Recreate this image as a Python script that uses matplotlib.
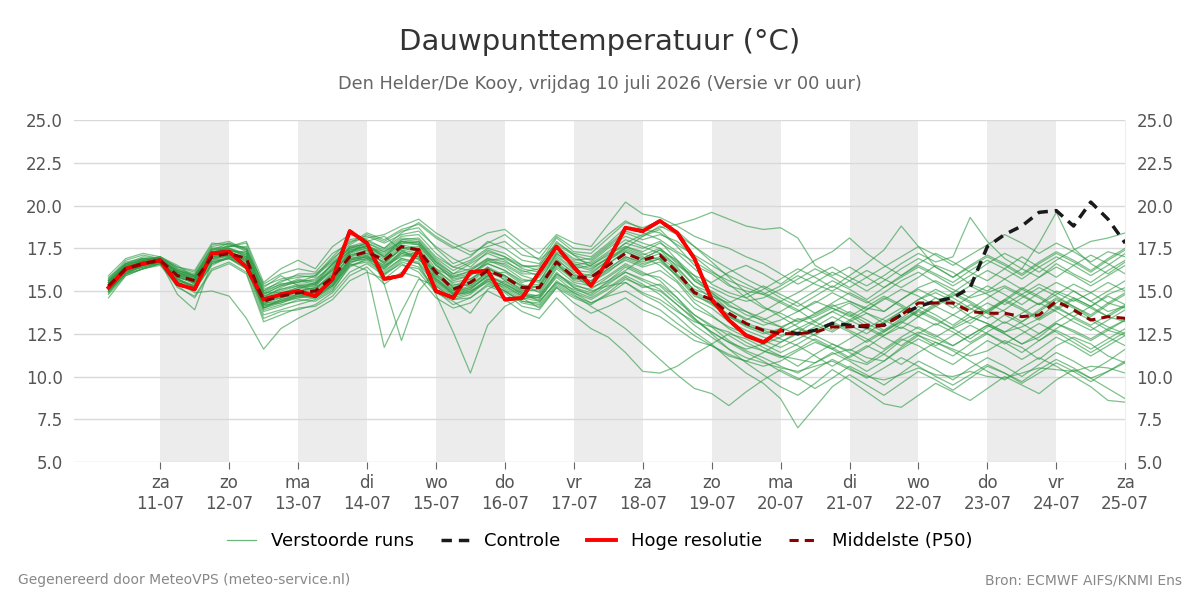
import numpy as np
import pandas as pd
import matplotlib
matplotlib.use('Agg')
import matplotlib.pyplot as plt
from matplotlib.lines import Line2D

# time axis: 6-hourly from 10-07 06:00 to 25-07 00:00
times = pd.date_range('2026-07-10 06:00', '2026-07-25 00:00', freq='6h')

# high resolution run (ends 20-07 00:00)
hres = [15.2, 16.3, 16.6, 16.8, 15.4, 15.1, 17.2, 17.3, 16.4, 14.5,
        14.8, 15.0, 14.7, 15.7, 18.5, 17.8, 15.7, 15.9, 17.4, 15.0,
        14.6, 16.1, 16.2, 14.5, 14.6, 16.1, 17.6, 16.4, 15.3, 16.8,
        18.7, 18.5, 19.1, 18.4, 16.9, 14.5, 13.3, 12.4, 12.0, 12.7]

# control run
control = hres + [12.5, 12.7, 13.1, 13.0, 12.9, 13.0, 13.6, 14.1, 14.4, 14.6,
                  15.2, 17.6, 18.3, 18.8, 19.6, 19.7, 18.8, 20.2, 19.2, 17.8]

# median of the ensemble
p50 = [15.3, 16.3, 16.6, 16.8, 15.9, 15.6, 17.0, 17.2, 16.9, 14.4,
       14.7, 14.9, 15.0, 15.8, 17.0, 17.3, 16.8, 17.6, 17.4, 16.1,
       15.1, 15.5, 16.2, 15.8, 15.2, 15.2, 16.7, 15.8, 15.8, 16.5,
       17.2, 16.8, 17.1, 16.1, 14.9, 14.5, 13.7, 13.1, 12.7, 12.5,
       12.5, 12.6, 12.9, 12.9, 13.0, 13.0, 13.6, 14.3, 14.3, 14.3,
       13.8, 13.7, 13.7, 13.5, 13.6, 14.4, 13.9, 13.3, 13.5, 13.4]

# perturbed members (read/estimated from the picture)
members = [
    [15.5, 16.4, 16.7, 16.9, 16.0, 15.4, 17.3, 17.5, 17.0, 14.2, 14.9, 15.2, 15.3, 16.3, 17.4, 17.6, 17.2, 17.9, 17.8, 16.6,
     15.6, 15.9, 16.8, 16.4, 15.7, 15.5, 17.2, 16.5, 16.2, 17.0, 17.8, 17.5, 17.9, 16.8, 15.6, 15.0, 14.4, 13.8, 13.2, 12.9,
     13.3, 13.6, 14.1, 14.4, 14.0, 13.8, 14.5, 15.2, 15.6, 15.1, 14.6, 14.9, 15.3, 14.8, 14.2, 15.0, 14.6, 14.1, 14.8, 15.2],
    [15.0, 16.1, 16.4, 16.7, 14.8, 13.9, 16.7, 16.9, 16.3, 13.6, 13.9, 14.2, 14.5, 15.1, 16.4, 16.9, 16.0, 16.8, 16.6, 15.3,
     14.5, 14.6, 15.4, 15.0, 14.4, 14.3, 15.6, 14.9, 14.5, 15.1, 15.8, 15.2, 15.4, 14.6, 13.6, 13.0, 12.4, 11.8, 11.5, 11.2,
     11.0, 10.8, 11.3, 11.6, 11.1, 10.9, 11.7, 12.4, 12.0, 11.6, 11.2, 11.5, 12.1, 11.7, 11.0, 11.8, 12.3, 11.9, 11.2, 10.8],
    [15.8, 16.6, 16.9, 16.7, 16.2, 15.9, 17.6, 17.8, 17.5, 15.0, 15.6, 15.8, 15.9, 17.0, 18.0, 18.2, 17.8, 18.3, 18.5, 17.6,
     16.9, 16.4, 17.3, 17.0, 16.5, 16.4, 17.9, 17.1, 16.8, 17.6, 18.4, 18.0, 18.3, 17.9, 17.0, 16.2, 15.4, 14.6, 14.0, 13.7,
     13.2, 13.5, 14.0, 13.6, 12.9, 12.4, 13.1, 13.9, 14.6, 14.2, 13.5, 13.1, 12.6, 12.9, 13.4, 14.3, 15.0, 14.4, 13.8, 14.1],
    [14.9, 16.0, 16.5, 16.8, 15.7, 15.2, 16.9, 17.1, 16.6, 14.0, 14.3, 14.7, 14.6, 15.4, 16.8, 17.0, 16.3, 17.2, 16.9, 15.5,
     14.8, 14.9, 15.6, 15.2, 14.6, 14.0, 15.2, 14.3, 13.7, 14.1, 14.6, 13.9, 13.5, 12.8, 12.1, 11.8, 11.3, 10.9, 10.6, 10.9,
     11.5, 12.0, 11.6, 11.0, 10.7, 11.3, 12.1, 12.6, 12.2, 11.8, 12.4, 13.0, 12.5, 11.9, 12.3, 13.1, 12.7, 12.2, 12.8, 13.3],
    [15.6, 16.5, 16.8, 17.0, 16.3, 16.0, 17.5, 17.4, 17.2, 14.8, 15.3, 15.5, 15.7, 16.5, 17.5, 17.8, 17.4, 18.1, 18.0, 16.9,
     16.2, 16.7, 17.4, 17.0, 16.3, 16.1, 17.5, 16.8, 16.9, 17.7, 18.5, 18.2, 18.6, 17.6, 16.5, 16.0, 15.3, 15.0, 14.8, 15.3,
     15.9, 15.4, 15.0, 15.6, 16.2, 15.7, 15.2, 15.8, 16.5, 16.1, 15.4, 15.0, 15.7, 16.3, 15.8, 16.6, 16.0, 15.5, 16.2, 16.8],
    [15.1, 16.2, 16.5, 16.6, 15.5, 14.9, 15.0, 14.7, 13.4, 11.6, 12.8, 13.4, 13.9, 14.5, 15.6, 16.1, 15.7, 16.5, 16.3, 15.0,
     14.2, 14.6, 15.3, 14.9, 14.1, 13.9, 15.2, 14.6, 14.2, 14.9, 15.7, 15.3, 15.0, 14.2, 13.4, 12.6, 12.0, 11.6, 11.9, 12.3,
     12.8, 12.4, 11.9, 11.5, 12.1, 12.7, 13.2, 12.8, 12.3, 12.9, 13.5, 13.1, 12.6, 13.2, 13.8, 14.5, 14.0, 13.4, 12.9, 12.5],
    [15.4, 16.6, 17.0, 16.9, 16.1, 15.8, 17.1, 17.6, 17.8, 15.2, 15.9, 15.3, 15.1, 16.1, 17.2, 17.9, 18.2, 17.4, 16.8, 16.3,
     15.8, 16.2, 16.9, 16.5, 15.9, 15.6, 16.6, 15.9, 15.2, 15.6, 16.2, 16.9, 17.4, 16.8, 15.9, 14.8, 13.9, 13.3, 13.8, 14.4,
     13.9, 13.2, 12.7, 13.3, 13.9, 14.6, 14.1, 13.5, 14.2, 14.8, 14.3, 13.7, 14.4, 15.1, 14.6, 14.0, 13.5, 14.1, 14.7, 14.2],
    [15.7, 16.8, 17.1, 16.9, 16.4, 16.1, 17.7, 17.9, 17.4, 15.4, 16.0, 16.3, 16.1, 17.2, 17.8, 18.4, 18.0, 18.6, 18.9, 18.1,
     17.5, 17.9, 18.4, 18.6, 17.8, 17.2, 18.3, 17.8, 17.6, 18.9, 20.2, 19.5, 19.3, 18.8, 18.2, 17.8, 17.5, 17.0, 16.6, 16.0,
     15.4, 15.9, 16.4, 15.8, 15.3, 15.9, 16.6, 17.2, 16.7, 17.0, 19.3, 17.9, 16.9, 16.3, 17.8, 19.6, 17.5, 16.6, 16.0, 16.7],
    [15.2, 16.3, 16.6, 16.8, 15.8, 15.5, 17.0, 17.3, 16.7, 14.1, 14.5, 14.8, 14.9, 15.6, 16.9, 17.1, 16.5, 17.0, 17.3, 15.8,
     14.8, 15.1, 15.9, 15.4, 14.9, 14.7, 16.0, 15.4, 15.0, 15.3, 15.5, 14.8, 14.3, 13.5, 12.6, 11.9, 11.0, 10.2, 9.6, 8.7,
     7.0, 8.2, 9.4, 10.1, 9.5, 8.9, 9.6, 10.3, 9.8, 9.2, 9.9, 10.6, 10.2, 9.7, 10.4, 11.0, 10.5, 9.9, 10.3, 10.8],
    [15.3, 16.2, 16.6, 16.7, 15.9, 15.7, 17.2, 17.0, 16.8, 14.6, 14.6, 15.0, 15.2, 15.9, 17.3, 17.5, 16.9, 17.7, 17.5, 16.0,
     15.3, 15.7, 16.4, 15.6, 15.0, 15.3, 16.9, 16.0, 15.6, 16.3, 17.0, 16.6, 16.9, 15.8, 14.7, 14.3, 13.5, 12.9, 12.5, 12.8,
     13.4, 13.0, 12.6, 13.2, 13.7, 13.3, 12.8, 13.5, 14.1, 13.6, 13.1, 13.8, 14.4, 13.9, 13.3, 13.9, 14.5, 14.0, 13.5, 13.2],
    [15.0, 16.0, 16.3, 16.6, 15.4, 15.1, 16.6, 17.0, 16.4, 13.9, 14.2, 14.4, 14.6, 15.2, 16.6, 17.1, 16.2, 16.9, 16.6, 14.8,
     12.6, 10.2, 13.0, 14.1, 14.6, 14.4, 15.5, 15.1, 14.8, 15.6, 16.4, 15.9, 16.2, 15.5, 14.3, 13.6, 12.8, 12.3, 11.9, 11.4,
     11.9, 12.5, 13.1, 12.6, 12.0, 12.6, 13.3, 13.9, 13.4, 12.8, 12.2, 12.9, 13.6, 13.1, 12.5, 13.2, 13.8, 13.3, 12.7, 12.4],
    [15.9, 16.9, 17.2, 17.0, 16.5, 15.8, 17.4, 17.6, 17.9, 15.5, 16.3, 16.8, 16.3, 17.6, 18.3, 18.0, 17.5, 18.4, 19.0, 18.2,
     17.6, 17.1, 17.8, 18.3, 17.5, 16.8, 17.7, 17.1, 16.4, 16.9, 17.5, 18.2, 18.8, 18.3, 17.6, 16.9, 16.3, 15.7, 15.2, 14.6,
     14.1, 14.7, 15.3, 14.8, 14.3, 14.9, 15.6, 16.1, 15.5, 14.9, 15.6, 16.2, 15.7, 15.1, 15.8, 16.4, 15.9, 15.3, 15.9, 16.5],
    [14.6, 15.9, 16.3, 16.5, 15.3, 14.6, 16.2, 16.6, 16.0, 13.2, 13.6, 14.0, 14.1, 14.7, 15.9, 16.4, 15.4, 16.1, 15.8, 14.6,
     14.0, 14.3, 15.0, 14.5, 13.8, 13.4, 14.6, 13.6, 12.8, 12.3, 11.4, 10.3, 10.2, 10.6, 11.3, 11.9, 12.5, 12.2, 11.7, 11.2,
     10.6, 11.3, 11.9, 11.4, 10.8, 11.5, 12.2, 11.8, 11.2, 10.7, 11.4, 12.1, 11.6, 11.0, 11.6, 12.3, 11.8, 11.2, 11.8, 12.4],
    [15.4, 16.3, 16.8, 16.9, 16.1, 15.6, 17.2, 17.5, 17.1, 14.7, 15.1, 15.4, 15.4, 16.4, 17.6, 17.7, 17.1, 17.9, 17.7, 16.5,
     15.9, 16.1, 16.6, 16.2, 15.5, 15.8, 17.1, 16.3, 16.5, 17.2, 17.6, 17.3, 17.8, 17.2, 16.3, 15.4, 14.9, 14.6, 15.1, 15.7,
     16.3, 15.8, 15.2, 15.9, 16.6, 17.4, 18.8, 17.6, 16.4, 15.8, 16.5, 17.1, 16.6, 16.0, 16.7, 17.3, 16.8, 16.2, 16.9, 17.5],
    [15.1, 16.1, 16.5, 16.7, 15.7, 15.3, 16.8, 17.1, 16.5, 14.3, 14.4, 14.6, 14.7, 15.3, 16.7, 16.9, 16.4, 17.3, 17.0, 15.6,
     14.9, 15.2, 15.8, 15.1, 14.5, 14.8, 16.3, 15.5, 15.3, 15.9, 16.6, 16.1, 15.6, 14.6, 13.4, 12.5, 11.6, 10.8, 10.1, 9.4,
     8.9, 9.6, 10.4, 9.8, 9.1, 8.4, 8.2, 8.9, 9.6, 9.1, 8.6, 9.3, 10.0, 9.5, 9.0, 9.8, 10.4, 9.9, 9.3, 8.7],
    [15.5, 16.4, 16.6, 16.8, 16.0, 15.7, 17.0, 17.3, 17.3, 14.9, 14.9, 15.1, 15.5, 16.2, 17.1, 17.4, 16.6, 17.5, 17.6, 16.3,
     15.4, 15.3, 16.0, 16.1, 15.4, 14.9, 16.4, 15.7, 16.0, 16.8, 17.4, 17.0, 16.5, 15.6, 14.5, 14.0, 13.2, 12.7, 12.3, 12.0,
     12.6, 13.2, 13.8, 14.3, 13.7, 13.1, 13.8, 14.5, 15.1, 14.6, 14.0, 13.4, 13.9, 14.6, 15.2, 14.7, 14.1, 13.6, 14.3, 14.9],
    [15.6, 16.7, 16.9, 16.8, 16.2, 15.9, 17.5, 17.6, 17.6, 15.3, 15.7, 15.9, 15.8, 16.9, 17.7, 18.3, 17.9, 18.5, 18.7, 17.5,
     16.6, 17.0, 17.9, 17.5, 16.8, 16.6, 18.1, 17.3, 17.2, 18.1, 19.0, 18.7, 19.1, 18.5, 17.6, 16.7, 15.8, 14.9, 14.1, 13.5,
     12.9, 12.4, 13.1, 13.8, 13.3, 12.7, 13.4, 14.1, 13.6, 13.0, 13.7, 14.3, 13.8, 13.2, 13.9, 14.6, 14.1, 13.5, 14.2, 14.8],
    [15.2, 16.2, 16.7, 16.8, 15.9, 15.4, 16.9, 17.2, 16.9, 14.5, 14.8, 15.0, 14.8, 15.5, 16.8, 17.2, 16.7, 17.4, 17.2, 15.9,
     15.0, 15.3, 16.1, 15.7, 15.1, 15.0, 16.6, 15.6, 15.5, 16.2, 16.8, 16.4, 16.7, 15.9, 14.8, 14.2, 13.5, 13.0, 12.6, 12.2,
     11.8, 11.2, 10.6, 11.2, 11.8, 11.3, 10.7, 11.4, 12.0, 11.5, 10.9, 10.3, 9.8, 10.5, 11.1, 10.6, 10.0, 9.4, 8.6, 8.5],
    [15.3, 16.5, 16.9, 16.9, 16.1, 15.8, 17.3, 17.1, 17.0, 14.6, 15.2, 15.6, 15.4, 16.6, 17.3, 17.6, 17.3, 18.0, 17.9, 16.8,
     16.0, 16.6, 17.2, 16.8, 16.1, 16.3, 17.6, 16.9, 16.6, 17.3, 18.0, 17.6, 17.2, 16.5, 15.9, 15.5, 16.1, 16.5, 16.0, 15.4,
     16.1, 16.8, 17.3, 18.1, 17.2, 16.5, 15.9, 16.6, 17.2, 16.7, 16.1, 15.6, 16.3, 17.0, 16.4, 15.8, 16.5, 17.1, 16.6, 16.0],
    [15.0, 16.1, 16.4, 16.6, 15.6, 15.3, 16.8, 16.9, 16.5, 14.0, 14.5, 14.7, 14.9, 15.3, 16.6, 16.2, 11.7, 13.8, 15.7, 15.3,
     14.6, 14.9, 15.7, 15.3, 14.7, 14.5, 15.9, 15.2, 14.7, 15.4, 16.1, 15.7, 15.3, 14.4, 13.6, 12.9, 12.1, 11.5, 11.1, 10.6,
     10.2, 10.8, 11.4, 10.9, 10.3, 10.9, 11.6, 12.2, 11.7, 11.2, 11.9, 12.5, 12.0, 11.4, 12.1, 12.7, 12.2, 11.6, 12.2, 12.8],
    [15.4, 16.3, 16.5, 16.7, 15.8, 15.5, 17.1, 17.3, 16.8, 14.3, 14.8, 15.2, 15.1, 16.0, 17.2, 17.5, 15.4, 12.1, 15.0, 16.2,
     15.5, 15.7, 16.3, 15.9, 15.3, 15.4, 16.8, 16.1, 15.9, 16.6, 17.3, 16.9, 17.4, 16.4, 15.3, 14.6, 13.9, 13.4, 13.0, 13.3,
     13.8, 14.4, 14.0, 13.5, 14.1, 14.7, 14.2, 13.6, 14.3, 14.9, 14.4, 13.8, 14.5, 15.2, 14.7, 14.1, 13.5, 13.0, 13.6, 14.2],
    [14.8, 15.9, 16.3, 16.6, 15.2, 14.7, 16.3, 16.7, 16.1, 13.4, 13.8, 13.9, 14.2, 14.9, 16.1, 16.6, 15.9, 16.7, 16.4, 15.1,
     14.5, 14.8, 15.6, 15.0, 14.3, 14.1, 15.3, 14.7, 14.3, 14.7, 15.0, 14.4, 13.9, 13.1, 12.4, 11.8, 11.2, 10.9, 11.4, 12.0,
     12.5, 12.1, 11.6, 12.2, 12.8, 12.3, 11.8, 12.5, 13.1, 12.6, 12.0, 12.6, 13.2, 12.7, 12.1, 12.8, 13.4, 12.9, 12.3, 11.8],
    [15.7, 16.6, 16.8, 17.0, 16.4, 16.2, 17.8, 17.7, 17.5, 15.1, 15.5, 16.0, 16.0, 16.8, 17.9, 18.1, 18.3, 18.8, 19.2, 18.4,
     17.8, 17.3, 17.6, 17.9, 17.1, 16.9, 18.2, 17.5, 17.4, 18.3, 19.1, 18.6, 18.4, 17.7, 17.1, 16.5, 15.9, 15.4, 14.9, 14.4,
     14.9, 15.5, 16.1, 15.6, 15.0, 15.6, 16.3, 16.9, 16.4, 15.8, 16.4, 17.0, 16.5, 15.9, 16.6, 17.2, 16.7, 16.1, 16.8, 17.4],
    [15.5, 16.5, 16.6, 16.9, 16.1, 15.7, 17.3, 17.4, 17.0, 14.6, 15.0, 15.3, 15.3, 16.2, 17.3, 17.7, 17.0, 17.8, 17.9, 16.7,
     15.8, 16.0, 16.7, 16.6, 16.0, 16.0, 17.3, 16.7, 16.5, 17.1, 17.8, 18.3, 18.7, 18.9, 19.2, 19.6, 19.2, 18.8, 18.6, 18.7,
     18.1, 16.5, 15.9, 16.4, 15.8, 15.2, 15.9, 16.5, 16.0, 15.5, 16.2, 16.8, 16.3, 15.7, 16.4, 17.0, 16.5, 15.9, 16.5, 17.2],
    [15.2, 16.2, 16.4, 16.7, 15.7, 15.2, 16.7, 16.9, 16.4, 13.8, 14.1, 14.5, 14.4, 15.0, 16.5, 16.8, 16.1, 16.9, 16.7, 15.4,
     14.7, 15.0, 15.5, 15.0, 14.4, 14.2, 15.4, 14.8, 14.1, 13.5, 12.8, 11.9, 11.0, 10.1, 9.3, 9.0, 8.3, 9.1, 9.8, 10.4,
     9.9, 9.3, 9.9, 10.6, 10.1, 9.5, 10.2, 10.9, 10.4, 9.8, 10.5, 11.1, 10.6, 10.0, 10.7, 11.4, 10.9, 10.3, 10.9, 11.6],
    [15.3, 16.4, 16.7, 16.8, 16.0, 15.6, 17.1, 17.3, 16.9, 14.5, 14.7, 15.0, 15.2, 15.9, 17.0, 17.4, 16.8, 17.6, 17.4, 16.2,
     15.2, 15.6, 16.4, 15.9, 15.3, 15.2, 16.7, 15.9, 15.8, 16.6, 17.3, 16.8, 17.2, 16.3, 15.3, 14.9, 14.2, 13.6, 13.3, 13.8,
     14.4, 15.0, 15.6, 15.1, 14.5, 15.2, 15.8, 16.4, 15.9, 15.3, 15.9, 16.6, 17.2, 16.7, 16.1, 16.8, 17.4, 17.9, 18.1, 18.4],
    [15.0, 16.0, 16.5, 16.7, 15.5, 15.0, 16.6, 16.9, 16.3, 14.2, 14.3, 14.6, 14.8, 15.4, 16.7, 16.9, 16.3, 17.1, 16.9, 15.6,
     14.8, 15.0, 15.7, 15.3, 14.7, 14.6, 15.8, 15.0, 14.6, 15.2, 15.9, 15.4, 14.8, 13.9, 13.0, 12.3, 11.6, 11.1, 10.8, 10.5,
     10.3, 10.6, 10.9, 10.4, 10.0, 9.8, 10.1, 10.5, 10.1, 10.0, 10.3, 10.0, 9.9, 10.2, 10.5, 10.4, 10.3, 10.6, 10.5, 10.2],
    [15.6, 16.5, 16.8, 16.9, 16.2, 15.8, 17.4, 17.5, 17.2, 14.9, 15.4, 15.6, 15.6, 16.6, 17.5, 17.8, 17.3, 17.9, 17.8, 16.7,
     16.0, 16.3, 16.9, 16.7, 16.2, 15.9, 17.2, 16.5, 16.7, 17.5, 18.2, 17.8, 17.5, 16.6, 15.6, 14.9, 14.1, 13.8, 13.4, 12.9,
     12.4, 12.9, 13.5, 13.0, 12.5, 13.2, 13.8, 14.5, 14.9, 14.4, 13.9, 14.6, 15.2, 14.7, 14.2, 14.8, 15.4, 14.9, 14.3, 14.0],
    [15.1, 16.2, 16.5, 16.8, 15.6, 15.2, 16.9, 17.0, 16.6, 14.1, 14.4, 14.8, 14.6, 15.3, 16.5, 16.7, 16.0, 16.6, 16.1, 14.9,
     14.4, 13.7, 15.1, 15.6, 14.9, 14.4, 15.5, 14.9, 14.3, 14.8, 15.5, 14.9, 14.5, 13.8, 13.2, 12.9, 12.6, 12.0, 11.5, 11.1,
     11.6, 12.2, 11.7, 11.1, 11.7, 12.4, 12.9, 12.4, 11.8, 12.4, 13.0, 12.5, 11.9, 12.5, 13.1, 12.6, 12.0, 11.4, 12.0, 12.6],
    [15.4, 16.4, 16.9, 16.9, 16.2, 15.9, 17.2, 17.7, 17.4, 14.8, 15.3, 15.7, 15.5, 16.6, 17.5, 17.6, 17.0, 18.0, 18.1, 17.0,
     16.4, 16.8, 17.5, 17.2, 16.5, 16.2, 17.5, 16.6, 16.3, 16.9, 17.6, 17.2, 16.8, 15.9, 15.1, 14.7, 14.3, 14.8, 15.3, 14.8,
     14.3, 13.7, 14.3, 14.9, 14.4, 13.8, 14.5, 15.1, 14.6, 14.0, 14.7, 15.3, 14.8, 14.2, 14.9, 15.5, 15.0, 14.4, 15.0, 15.6],
    [15.2, 16.3, 16.8, 16.8, 15.8, 15.5, 17.0, 17.2, 16.8, 14.4, 14.6, 14.9, 15.0, 15.7, 17.1, 17.3, 16.6, 17.5, 17.3, 15.9,
     15.1, 15.5, 16.3, 15.8, 15.0, 15.1, 16.5, 15.8, 15.5, 16.1, 16.9, 16.5, 16.9, 16.0, 14.9, 14.3, 13.6, 13.0, 12.7, 12.4,
     12.8, 13.3, 13.8, 13.3, 12.8, 13.4, 14.0, 13.5, 13.0, 13.6, 14.2, 13.7, 13.1, 13.7, 14.3, 13.8, 13.2, 12.7, 13.3, 13.9],
    [15.5, 16.6, 16.7, 17.0, 16.3, 15.9, 17.4, 17.8, 17.3, 15.0, 15.4, 15.5, 15.9, 16.7, 17.6, 17.9, 17.5, 18.2, 18.3, 17.2,
     16.4, 16.2, 16.8, 16.9, 16.4, 16.5, 17.8, 17.2, 17.0, 17.8, 18.7, 18.4, 18.0, 17.3, 16.7, 16.1, 15.6, 15.2, 14.8, 14.3,
     13.8, 14.3, 14.9, 14.4, 13.9, 14.5, 15.1, 14.7, 14.1, 14.7, 15.3, 14.8, 14.2, 14.8, 15.4, 14.9, 14.4, 14.9, 15.5, 15.0],
    [14.9, 16.0, 16.3, 16.6, 15.5, 15.1, 16.5, 17.0, 16.5, 14.0, 14.4, 14.7, 14.8, 15.5, 16.9, 17.0, 16.4, 17.2, 17.0, 15.7,
     14.9, 15.1, 15.9, 15.5, 14.8, 14.6, 16.0, 15.3, 15.1, 15.8, 16.5, 16.0, 15.8, 15.0, 14.0, 13.5, 12.9, 12.5, 12.1, 11.7,
     12.2, 12.7, 13.2, 12.7, 12.2, 11.6, 12.3, 12.9, 12.4, 11.8, 12.4, 13.0, 12.5, 11.9, 12.5, 13.1, 12.6, 12.1, 12.7, 13.3],
    [15.3, 16.2, 16.6, 16.7, 15.7, 15.3, 17.0, 17.1, 16.7, 14.2, 14.6, 14.8, 14.9, 15.6, 16.8, 17.0, 16.5, 17.3, 17.1, 15.7,
     15.0, 15.2, 15.9, 15.4, 14.8, 14.7, 16.1, 15.2, 14.9, 15.5, 16.1, 15.6, 15.1, 14.2, 13.3, 12.6, 12.0, 11.4, 10.9, 10.3,
     9.8, 10.4, 11.0, 10.5, 9.9, 10.5, 11.1, 10.6, 10.0, 9.5, 10.1, 10.7, 10.2, 9.6, 10.2, 10.8, 10.3, 9.7, 10.3, 10.9],
    [15.6, 16.4, 16.7, 16.9, 16.1, 15.7, 17.2, 17.4, 17.1, 14.7, 15.1, 15.3, 15.4, 16.3, 17.4, 17.6, 17.0, 17.8, 17.7, 16.5,
     15.7, 15.9, 16.6, 16.2, 15.6, 15.6, 17.0, 16.2, 16.1, 16.8, 17.5, 17.1, 17.5, 16.7, 15.7, 15.2, 14.7, 14.4, 14.6, 15.1,
     15.7, 16.3, 15.8, 15.2, 15.8, 16.4, 17.0, 17.6, 17.1, 16.5, 17.1, 17.7, 18.3, 17.8, 17.2, 17.8, 17.3, 16.7, 17.3, 17.0],
    [15.2, 16.1, 16.6, 16.8, 15.9, 15.6, 17.1, 17.2, 16.9, 14.4, 14.7, 15.0, 15.1, 15.8, 17.0, 17.2, 16.7, 17.5, 17.4, 16.0,
     15.2, 15.4, 16.1, 15.9, 15.2, 15.3, 16.6, 15.7, 15.6, 16.3, 17.0, 16.7, 17.0, 16.2, 15.0, 14.4, 13.6, 13.1, 12.8, 12.6,
     13.1, 13.7, 14.2, 13.7, 13.1, 12.6, 13.2, 13.8, 13.3, 12.8, 13.3, 13.9, 14.5, 14.0, 13.4, 14.0, 14.6, 14.1, 13.5, 14.1],
]

tick_days = pd.date_range('2026-07-11', '2026-07-25', freq='D')
day_names = ['za', 'zo', 'ma', 'di', 'wo', 'do', 'vr', 'za', 'zo', 'ma', 'di', 'wo', 'do', 'vr', 'za']
tick_labels = [f'{d}\n{t:%d-%m}' for d, t in zip(day_names, tick_days)]

# colours
green = '#2e9b44'
grey_txt = '#555555'

fig = plt.figure(figsize=(12, 6), dpi=100)
ax = fig.add_axes([0.0617, 0.23, 0.876, 0.57])

# alternating day shading
for k in range(0, len(tick_days) - 1, 2):
    ax.axvspan(tick_days[k], tick_days[k + 1], color='#ececec', zorder=0, lw=0)

for m in members:
    ax.plot(times, m, color=green, lw=0.9, alpha=0.62, zorder=2)

ax.plot(times, control, color='#1a1a1a', lw=2.5, ls=(0, (3, 2)), zorder=3)
ax.plot(times[:len(hres)], hres, color='#ff0000', lw=2.8, zorder=4)
ax.plot(times, p50, color='#8b0000', lw=2.2, ls=(0, (3, 2)), zorder=5)

ax.set_ylim(5, 25)
ax.set_yticks(np.arange(5, 25.1, 2.5))
ax.set_yticklabels([f'{v:.1f}' for v in np.arange(5, 25.1, 2.5)])
ax.set_xlim(pd.Timestamp('2026-07-09 18:00'), pd.Timestamp('2026-07-25 00:00'))
ax.set_xticks(tick_days)
ax.set_xticklabels(tick_labels)

ax.grid(True, axis='y', color='#d9d9d9', lw=1, zorder=1)
ax.set_axisbelow(True)
for s in ['top', 'left', 'bottom']:
    ax.spines[s].set_visible(False)
ax.spines['right'].set_color('#eeeeee')

ax.tick_params(axis='x', colors=grey_txt, labelsize=12, length=5, color='#666666', pad=4)
ax.tick_params(axis='y', colors=grey_txt, labelsize=12, length=0, pad=8,
               labelright=True, right=False)

fig.text(0.5, 0.93, 'Dauwpunttemperatuur (°C)', ha='center', va='center',
         fontsize=21, color='#333333')
fig.text(0.5, 0.86, 'Den Helder/De Kooy, vrijdag 10 juli 2026 (Versie vr 00 uur)',
         ha='center', va='center', fontsize=12.8, color='#666666')

handles = [
    Line2D([], [], color=green, lw=0.9, alpha=0.7),
    Line2D([], [], color='#1a1a1a', lw=2.5, ls=(0, (3, 2))),
    Line2D([], [], color='#ff0000', lw=2.8),
    Line2D([], [], color='#8b0000', lw=2.2, ls=(0, (3, 2))),
]
labels = ['Verstoorde runs', 'Controle', 'Hoge resolutie', 'Middelste (P50)']
fig.legend(handles, labels, loc='center', bbox_to_anchor=(0.5, 0.098), ncol=4,
           frameon=False, fontsize=13, handlelength=1.6, handletextpad=0.8,
           columnspacing=1.5)

fig.text(0.015, 0.033, 'Gegenereerd door MeteoVPS (meteo-service.nl)', ha='left',
         va='center', fontsize=10, color='#888888')
fig.text(0.985, 0.033, 'Bron: ECMWF AIFS/KNMI Ens', ha='right',
         va='center', fontsize=10, color='#888888')

fig.savefig('out.png', dpi=100)
